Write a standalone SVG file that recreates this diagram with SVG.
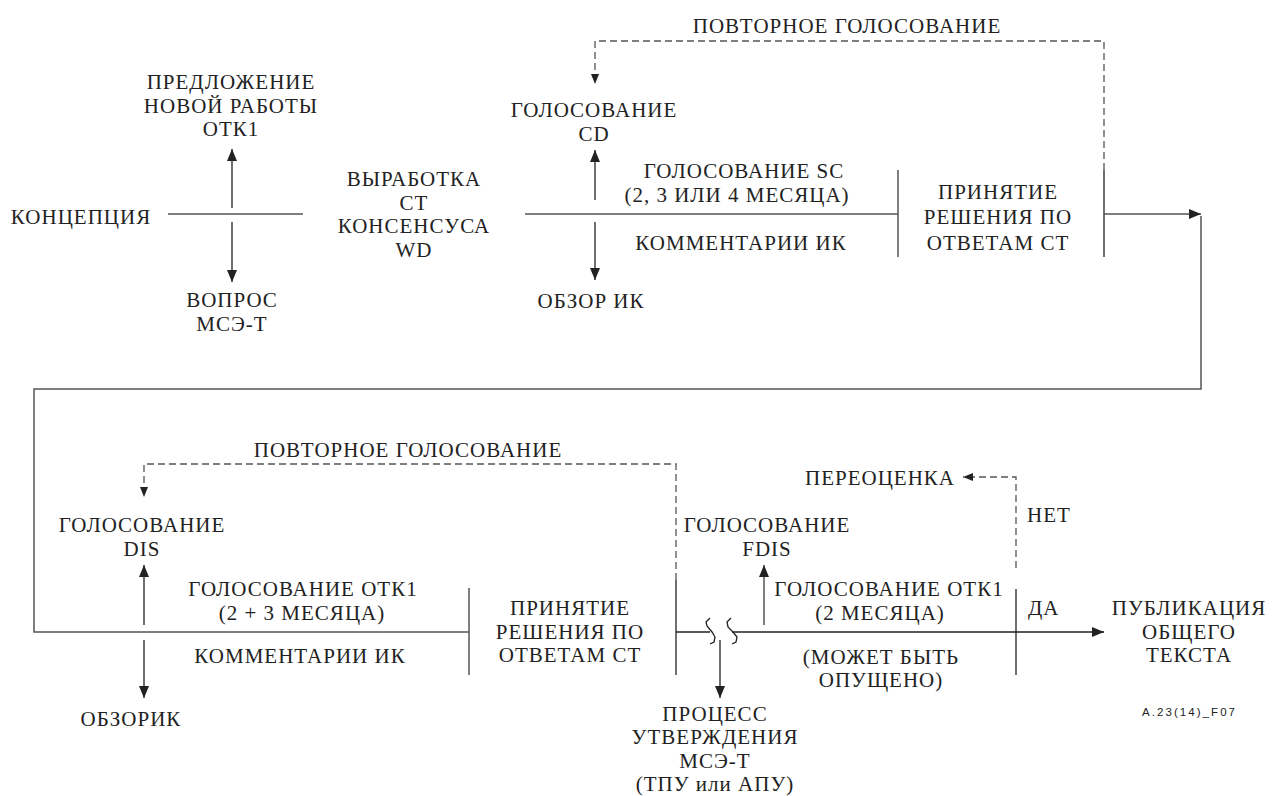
<svg xmlns="http://www.w3.org/2000/svg" width="1272" height="796" viewBox="0 0 1272 796">
<style>
.t text{font-size:21px;letter-spacing:1px;fill:#222;text-anchor:middle}
.t .st{text-anchor:start}
.code{font-family:'Liberation Sans',Arial,sans-serif;font-size:11.5px;fill:#222}
.ln{stroke:#555;stroke-width:1.5;fill:none}
.ar{stroke:#222;stroke-width:1.3;fill:none}
.ds{stroke:#555;stroke-width:1.3;fill:none;stroke-dasharray:7 4}
</style>
<defs>
<marker id="a" markerUnits="userSpaceOnUse" markerWidth="12" markerHeight="10" refX="12" refY="5" orient="auto"><path d="M0,0L12,5L0,10z" fill="#222"/></marker>
<marker id="s" markerUnits="userSpaceOnUse" markerWidth="10" markerHeight="8" refX="10" refY="4" orient="auto"><path d="M0,0L10,4L0,8z" fill="#222"/></marker>
</defs>
<rect width="1272" height="796" fill="#fff"/>
<g id="connectors">
<line class="ln" x1="168" y1="214" x2="303" y2="214"/>
<line class="ar" x1="232" y1="208" x2="232" y2="149" marker-end="url(#a)"/>
<line class="ar" x1="232" y1="222" x2="232" y2="282" marker-end="url(#a)"/>
<line class="ln" x1="525" y1="214" x2="898" y2="214"/>
<line class="ar" x1="595" y1="200" x2="595" y2="150" marker-end="url(#a)"/>
<line class="ar" x1="595" y1="222" x2="595" y2="280" marker-end="url(#a)"/>
<line class="ln" x1="898" y1="170" x2="898" y2="257"/>
<line class="ar" x1="1104" y1="170" x2="1104" y2="257"/>
<path class="ds" d="M1104,170V41H595V84" marker-end="url(#s)"/>
<line class="ln" x1="1104" y1="214" x2="1201" y2="214" marker-end="url(#a)"/>
<path class="ln" d="M1201,216V389H34V632H469"/>
<line class="ln" x1="469" y1="588" x2="469" y2="675"/>
<path class="ds" d="M676,580V464H144V497" marker-end="url(#s)"/>
<line class="ar" x1="676" y1="580" x2="676" y2="675"/>
<line class="ar" x1="144" y1="625" x2="144" y2="565" marker-end="url(#a)"/>
<line class="ar" x1="144" y1="640" x2="144" y2="698" marker-end="url(#a)"/>
<line class="ar" x1="676" y1="632" x2="710" y2="632"/>
<path class="ar" d="M710,618L706,622L707,626L712,632L715,637L714,642L710,644"/>
<path class="ar" d="M731,618L727,622L728,627L733,632L737,637L736,642L732,644"/>
<line class="ar" x1="732" y1="632" x2="1104" y2="632" marker-end="url(#a)"/>
<line class="ar" x1="720" y1="640" x2="720" y2="698" marker-end="url(#a)"/>
<line class="ln" x1="764" y1="625" x2="764" y2="565" marker-end="url(#a)"/>
<path class="ds" d="M1016,568V477H963" marker-end="url(#s)"/>
<line class="ar" x1="1016" y1="589" x2="1016" y2="675"/>
</g>
<g class="t" font-family="Liberation Serif, Noto Serif, DejaVu Serif, Times New Roman, serif">
<g id="n-concept"><text x="81" y="224">КОНЦЕПЦИЯ</text></g>
<g id="n-proposal"><text x="231" y="89">ПРЕДЛОЖЕНИЕ</text><text x="231" y="112.5">НОВОЙ РАБОТЫ</text><text x="231" y="136">ОТК1</text></g>
<g id="n-question"><text x="232" y="307">ВОПРОС</text><text x="232" y="330.5">МСЭ-Т</text></g>
<g id="n-wd"><text x="414" y="186">ВЫРАБОТКА</text><text x="414" y="209.5">СТ</text><text x="414" y="233">КОНСЕНСУСА</text><text x="414" y="256.5">WD</text></g>
<g id="n-cd"><text x="594" y="117">ГОЛОСОВАНИЕ</text><text x="594" y="141">CD</text></g>
<g id="n-review1"><text x="591" y="308">ОБЗОР ИК</text></g>
<g id="n-sc"><text x="744" y="178">ГОЛОСОВАНИЕ SC</text><text x="737" y="201.5">(2, 3 ИЛИ 4 МЕСЯЦА)</text></g>
<g id="n-comments1"><text x="741" y="250">КОММЕНТАРИИ ИК</text></g>
<g id="n-decision1"><text x="998" y="199">ПРИНЯТИЕ</text><text x="998" y="224">РЕШЕНИЯ ПО</text><text x="998" y="250">ОТВЕТАМ СТ</text></g>
<g id="n-revote1"><text x="847" y="33">ПОВТОРНОЕ ГОЛОСОВАНИЕ</text></g>
<g id="n-revote2"><text x="408" y="457">ПОВТОРНОЕ ГОЛОСОВАНИЕ</text></g>
<g id="n-dis"><text x="142" y="532">ГОЛОСОВАНИЕ</text><text x="142" y="556">DIS</text></g>
<g id="n-otk1a"><text x="303" y="596">ГОЛОСОВАНИЕ ОТК1</text><text x="302" y="620">(2 + 3 МЕСЯЦА)</text></g>
<g id="n-comments2"><text x="300" y="663">КОММЕНТАРИИ ИК</text></g>
<g id="n-review2"><text x="131" y="726">ОБЗОРИК</text></g>
<g id="n-decision2"><text x="570" y="615">ПРИНЯТИЕ</text><text x="570" y="638.5">РЕШЕНИЯ ПО</text><text x="570" y="662">ОТВЕТАМ СТ</text></g>
<g id="n-fdis"><text x="767" y="532">ГОЛОСОВАНИЕ</text><text x="767" y="556">FDIS</text></g>
<g id="n-otk1b"><text x="889" y="596">ГОЛОСОВАНИЕ ОТК1</text><text x="880" y="620">(2 МЕСЯЦА)</text></g>
<g id="n-omit"><text x="881" y="663.5">(МОЖЕТ БЫТЬ</text><text x="881" y="687">ОПУЩЕНО)</text></g>
<g id="n-reeval"><text x="880" y="485">ПЕРЕОЦЕНКА</text></g>
<g id="n-no"><text class="st" x="1027" y="522">НЕТ</text></g>
<g id="n-yes"><text class="st" x="1028" y="615">ДА</text></g>
<g id="n-publish"><text x="1189" y="615">ПУБЛИКАЦИЯ</text><text x="1189" y="638.5">ОБЩЕГО</text><text x="1189" y="662">ТЕКСТА</text></g>
<g id="n-itut"><text x="715" y="721">ПРОЦЕСС</text><text x="715" y="744.4">УТВЕРЖДЕНИЯ</text><text x="715" y="767.8">МСЭ-Т</text><text x="715" y="791.2">(ТПУ или АПУ)</text></g>
</g>
<g id="n-code"><text class="code" x="1142" y="716" textLength="93" lengthAdjust="spacing">A.23(14)_F07</text></g>
</svg>
